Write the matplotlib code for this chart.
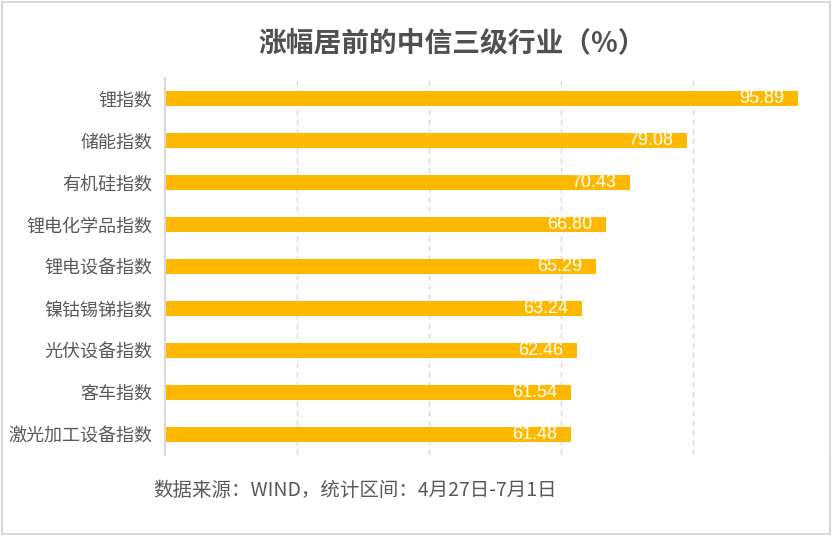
import matplotlib.pyplot as plt
from matplotlib.patches import Rectangle

plt.rcParams['font.family'] = ['Noto Sans CJK SC', 'DejaVu Sans']

categories = ['锂指数', '储能指数', '有机硅指数', '锂电化学品指数', '锂电设备指数',
              '镍钴锡锑指数', '光伏设备指数', '客车指数', '激光加工设备指数']
values = [95.89, 79.08, 70.43, 66.80, 65.29, 63.24, 62.46, 61.54, 61.48]

title = '涨幅居前的中信三级行业（%）'
source = '数据来源：WIND，统计区间：4月27日-7月1日'

fig = plt.figure(figsize=(8.32, 5.36), dpi=100)
ax = fig.add_axes([165 / 832, 1 - 455 / 536, 660 / 832, 377 / 536])

ypos = list(range(len(categories)))
ax.barh(ypos, values, height=0.36, color='#FFB800')
ax.set_ylim(len(categories) - 0.5, -0.5)
ax.set_xlim(0, 100)
ax.set_yticks(ypos)
ax.set_yticklabels(categories, fontsize=13, color='#595959')
ax.set_xticks([20, 40, 60, 80, 100])
ax.set_xticklabels([])
ax.tick_params(axis='both', length=0)
ax.tick_params(axis='y', pad=9)
ax.grid(axis='x', color='#D9D9D9', linestyle=(0, (4, 3)), linewidth=1)
ax.set_axisbelow(True)
for s in ['top', 'right', 'bottom']:
    ax.spines[s].set_visible(False)
ax.spines['left'].set_color('#D9D9D9')
ax.spines['left'].set_linewidth(1.5)

for y, v in zip(ypos, values):
    ax.annotate(f'{v:.2f}', xy=(v, y), xytext=(-10, 0), textcoords='offset points',
                ha='right', va='center', color='white', fontsize=13,
                family=['Liberation Sans', 'DejaVu Sans'])

fig.text(258 / 832, 1 - 43 / 536, title, ha='left', va='center',
         fontsize=20, fontweight='bold', color='#505050')
fig.text(153 / 832, 1 - 491 / 536, source, ha='left', va='center',
         fontsize=14, color='#595959')

fig.patches.append(Rectangle((0.002, 0.003), 0.995, 0.994, transform=fig.transFigure,
                             fill=False, edgecolor='#D9D9D9', linewidth=1.5))

fig.savefig('out.png', dpi=100)
